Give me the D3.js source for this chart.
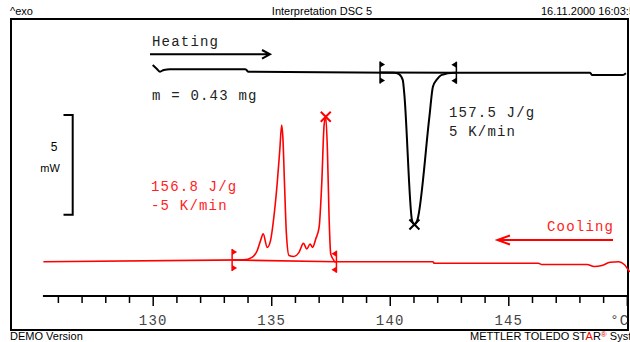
<!DOCTYPE html>
<html>
<head>
<meta charset="utf-8">
<script src="https://cdn.jsdelivr.net/npm/d3@7"></script>
<style>
  body { margin: 0; background: #fff; }
  svg { display: block; }
  .mono { font-family: "Liberation Mono", "DejaVu Sans Mono", monospace; font-size: 14px; letter-spacing: 1.2px; }
  .sans { font-family: "Liberation Sans", Arial, sans-serif; font-size: 11px; }
</style>
</head>
<body>
<div id="chart"></div>
<script>
// heating run, temperature in °C and heat flow in mW (exo up)
var heatT  = [130.00, 130.18, 130.31, 130.47, 130.73, 133.91, 134.04, 140.18, 140.39, 140.55, 140.61, 140.94, 141.04, 141.16, 141.67, 141.82, 142.00, 142.17, 142.72, 148.45, 148.54, 149.83, 149.96];
var heatMW = [0.39, 0.19, 0.05, 0.14, 0.17, 0.17, 0.05, 0.00, -0.07, -0.37, -1.02, -7.41, -7.61, -7.41, -2.23, -0.70, -0.32, -0.12, 0.00, 0.00, -0.12, -0.12, -0.03];

// cooling run
var coolT  = [125.39, 133.84, 134.19, 134.41, 134.55, 134.66, 134.83, 134.97, 135.11, 135.25, 135.36, 135.44, 135.49, 135.56, 135.64, 135.75, 135.96, 136.17, 136.36, 136.50, 136.64, 136.74, 136.88, 137.02, 137.13, 137.23, 137.30, 137.37, 137.44, 137.51, 137.63, 137.68, 141.82, 141.88, 146.27, 146.41, 148.32, 148.62, 148.95, 149.29, 149.66, 149.89, 150.12];
var coolMW = [-9.48, -9.39, -9.26, -8.92, -8.42, -8.08, -8.76, -8.42, -7.25, -5.57, -3.89, -2.63, -3.22, -5.57, -8.08, -9.17, -9.22, -9.01, -8.56, -8.84, -8.59, -8.76, -8.33, -7.75, -5.57, -2.63, -2.21, -3.89, -7.25, -9.09, -9.39, -9.48, -9.48, -9.56, -9.56, -9.62, -9.62, -9.72, -9.67, -9.51, -9.48, -9.62, -10.0];

// integration limits (°C)
var heatLimits = [139.59, 142.81];
var coolLimits = [133.35, 137.75];

var tickValues = d3.range(126, 151);
var tickLabels = {130: "130", 135: "135", 140: "140", 145: "145", 150: "°C"};

var width = 630, height = 342;

var svg = d3.select("#chart").append("svg")
  .attr("width", width)
  .attr("height", height);

var x = d3.scaleLinear().domain([130, 145]).range([152.7, 508.3]);
var y = d3.scaleLinear().domain([-11.2, 0]).range([296, 72.7]);

// frame
svg.append("rect")
  .attr("x", 11).attr("y", 19)
  .attr("width", 617).attr("height", 311)
  .attr("fill", "none").attr("stroke", "#000").attr("stroke-width", 2);

// header / footer
svg.append("text").attr("class", "sans").attr("x", 10).attr("y", 15).text("^exo");
svg.append("text").attr("class", "sans").attr("x", 322).attr("y", 15).attr("text-anchor", "middle").text("Interpretation DSC 5");
svg.append("text").attr("class", "sans").attr("x", 541).attr("y", 15).text("16.11.2000 16:03:53");
svg.append("text").attr("class", "sans").attr("x", 10).attr("y", 340).text("DEMO Version");
var star = svg.append("text").attr("class", "sans").attr("x", 470).attr("y", 340);
star.append("tspan").text("METTLER TOLEDO ST");
star.append("tspan").attr("fill", "#e00").text("A");
star.append("tspan").text("R");
star.append("tspan").attr("fill", "#e00").attr("font-size", 8).attr("dy", -3).text("®");
star.append("tspan").attr("dy", 3).text(" System");

// x axis
var axis = svg.append("g")
  .attr("transform", "translate(0," + y(-11.2) + ")")
  .call(d3.axisBottom(x)
    .tickValues(tickValues)
    .tickSizeOuter(0)
    .tickFormat(function(d) { return tickLabels[d] || ""; }));
axis.select(".domain").remove();
axis.append("line")
  .attr("x1", x(125.37)).attr("x2", x(150.05))
  .attr("stroke", "#000").attr("stroke-width", 2);
axis.selectAll(".tick line")
  .attr("stroke", "#000").attr("stroke-width", 1.5)
  .attr("y2", function(d) { return d % 5 === 0 ? 10 : 7; });
axis.selectAll(".tick text")
  .attr("class", "mono")
  .attr("fill", "#444")
  .attr("y", 29).attr("dy", 0)
  .attr("text-anchor", function(d) { return d === 150 ? "end" : "middle"; })
  .attr("dx", function(d) { return d === 150 ? 2 : 0; });

var line = d3.line()
  .x(function(d) { return x(d[0]); })
  .y(function(d) { return y(d[1]); })
  .curve(d3.curveMonotoneX);

function drawRun(T, V, limits, color, width) {
  var pts = T.map(function(t, i) { return [t, V[i]]; });
  svg.append("path")
    .datum(pts)
    .attr("fill", "none")
    .attr("stroke", color)
    .attr("stroke-width", width)
    .attr("d", line);

  var interp = function(t) {
    var i = d3.bisectLeft(T, t);
    if (i <= 0) return V[0];
    var f = (t - T[i - 1]) / (T[i] - T[i - 1]);
    return V[i - 1] + f * (V[i] - V[i - 1]);
  };
  var v0 = interp(limits[0]), v1 = interp(limits[1]);
  // integration baseline
  svg.append("line")
    .attr("x1", x(limits[0])).attr("y1", y(v0))
    .attr("x2", x(limits[1])).attr("y2", y(v1))
    .attr("stroke", color).attr("stroke-width", width);

  // limit markers
  [[limits[0], v0, 1], [limits[1], v1, -1]].forEach(function(m) {
    var mx = x(m[0]), my = y(m[1]), dir = m[2];
    svg.append("line")
      .attr("x1", mx).attr("x2", mx)
      .attr("y1", my - 11).attr("y2", my + 11)
      .attr("stroke", color).attr("stroke-width", 1.5);
    svg.append("path")
      .attr("d", "M" + mx + "," + (my - 11) + "L" + (mx + 5 * dir) + "," + (my - 8) + "L" + mx + "," + (my - 5) + "Z"
           + "M" + mx + "," + (my + 5) + "L" + (mx + 5 * dir) + "," + (my + 8) + "L" + mx + "," + (my + 11) + "Z")
      .attr("fill", color);
  });
}

function cross(t, v, color) {
  var cx = x(t), cy = y(v), s = 5;
  svg.append("path")
    .attr("d", "M" + (cx - s) + "," + (cy - s) + "L" + (cx + s) + "," + (cy + s)
         + "M" + (cx - s) + "," + (cy + s) + "L" + (cx + s) + "," + (cy - s))
    .attr("stroke", color).attr("stroke-width", 2).attr("fill", "none");
}

drawRun(heatT, heatMW, heatLimits, "#000", 2);
drawRun(coolT, coolMW, coolLimits, "#f00", 1.6);

// peak markers
var hMin = d3.minIndex(heatMW);
cross(heatT[hMin], heatMW[hMin], "#000");
var cMax = d3.maxIndex(coolMW);
cross(coolT[cMax], coolMW[cMax], "#f00");

// scale bar 5 mW
var sbTop = -2.12, sbSpan = 5;
svg.append("path")
  .attr("d", "M63.5," + y(sbTop) + "H72.7V" + y(sbTop - sbSpan) + "H63.5")
  .attr("fill", "none").attr("stroke", "#000").attr("stroke-width", 2);
svg.append("text").attr("x", 54).attr("y", 151).attr("text-anchor", "middle")
  .style("font-family", "Liberation Sans, Arial, sans-serif").style("font-size", "12px").text("5");
svg.append("text").attr("x", 50).attr("y", 172).attr("text-anchor", "middle")
  .style("font-family", "Liberation Sans, Arial, sans-serif").style("font-size", "11px").text("mW");

// annotations
svg.append("text").attr("class", "mono").attr("fill", "#222").attr("x", 152).attr("y", 46).text("Heating");
svg.append("path").attr("d", "M150,54.3H270M262,50L270,54.3L262,58.6")
  .attr("fill", "none").attr("stroke", "#000").attr("stroke-width", 2);
svg.append("text").attr("class", "mono").attr("fill", "#222").attr("x", 152).attr("y", 100).text("m = 0.43 mg");
svg.append("text").attr("class", "mono").attr("fill", "#222").attr("x", 449).attr("y", 117).text("157.5 J/g");
svg.append("text").attr("class", "mono").attr("fill", "#222").attr("x", 449).attr("y", 136).text("5 K/min");

svg.append("text").attr("class", "mono").attr("fill", "#f22").attr("x", 151).attr("y", 191).text("156.8 J/g");
svg.append("text").attr("class", "mono").attr("fill", "#f22").attr("x", 151).attr("y", 210).text("-5 K/min");
svg.append("text").attr("class", "mono").attr("fill", "#f22").attr("x", 547).attr("y", 231).text("Cooling");
svg.append("path").attr("d", "M613,240H497.5M510,235.5L497.5,240L510,244.5")
  .attr("fill", "none").attr("stroke", "#f00").attr("stroke-width", 2);
</script>
</body>
</html>
